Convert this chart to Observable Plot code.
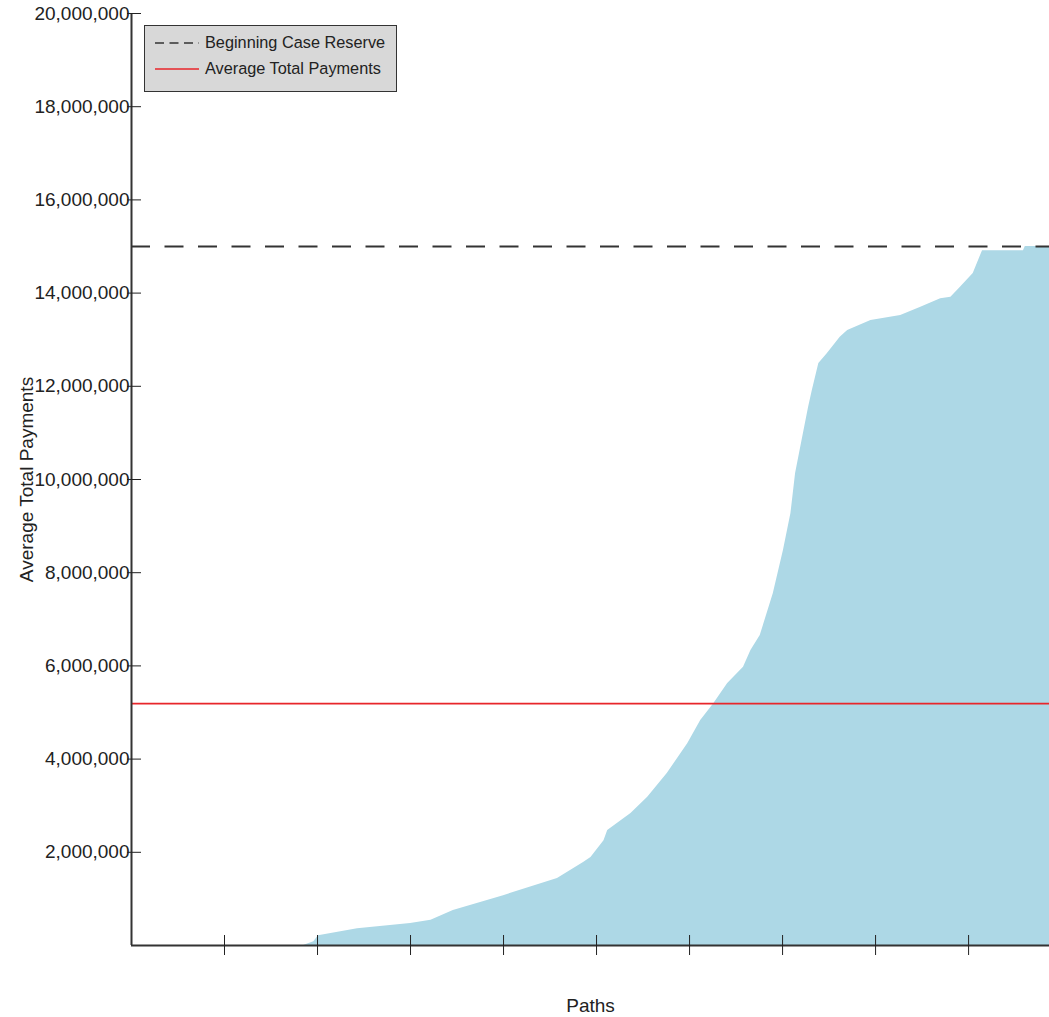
<!DOCTYPE html>
<html>
<head>
<meta charset="utf-8">
<script src="https://cdn.jsdelivr.net/npm/d3@7"></script>
<script src="https://cdn.jsdelivr.net/npm/@observablehq/plot@0.6"></script>
<style>
  body { margin: 0; background: #fff; font-family: "Liberation Sans", Arial, sans-serif; }
  #wrap { position: relative; width: 1049px; height: 1017px; overflow: hidden; }
  #legend {
    position: absolute; left: 144px; top: 25px; width: 253px; height: 67px;
    background: #d8d8d8; border: 1.5px solid #333; box-sizing: border-box;
    font-size: 16.3px; color: #222;
  }
  .row { position: absolute; left: 10px; display: flex; align-items: center; }
  .row svg { margin-right: 6px; }
</style>
</head>
<body>
<div id="wrap">
  <div id="chart"></div>
  <div id="legend">
    <div class="row" style="top:7px">
      <svg width="44" height="6"><line x1="0" y1="3" x2="44" y2="3" stroke="#333" stroke-width="1.6" stroke-dasharray="9,5.5"/></svg>
      <span>Beginning Case Reserve</span>
    </div>
    <div class="row" style="top:33px">
      <svg width="44" height="6"><line x1="0" y1="3" x2="44" y2="3" stroke="#e8262b" stroke-width="1.6"/></svg>
      <span>Average Total Payments</span>
    </div>
  </div>
</div>
<script>
// Data (paths sorted by total payments)
const paths = [0, 185, 196, 201, 243, 300, 322, 346, 400, 458, 486, 494, 508, 512, 537, 555, 576, 598, 612, 626, 641, 658, 666, 676, 690, 701, 709, 714, 721, 728, 732, 739, 748, 762, 770, 795, 827, 848, 870, 881, 891, 905, 915, 959, 961, 987];
const payments = [0, 0, 0.08, 0.21, 0.36, 0.47, 0.54, 0.75, 1.07, 1.44, 1.78, 1.89, 2.25, 2.47, 2.83, 3.18, 3.69, 4.33, 4.83, 5.19, 5.62, 5.97, 6.33, 6.65, 7.55, 8.48, 9.27, 10.13, 10.84, 11.55, 11.91, 12.49, 12.70, 13.05, 13.20, 13.41, 13.52, 13.69, 13.88, 13.91, 14.12, 14.42, 14.91, 14.91, 15.0, 15.0].map(v => v * 1e6);
const beginningCaseReserve = [15000000];
const averageTotalPayments = [5190000];
const xTicks = [100, 200, 300, 400, 500, 600, 700, 800, 900];
const yTicks = [2e6, 4e6, 6e6, 8e6, 10e6, 12e6, 14e6, 16e6, 18e6, 20e6];

const data = paths.map((p, i) => ({path: p, pay: payments[i]}));

const chart = Plot.plot({
  width: 1049,
  height: 1017,
  marginLeft: 131,
  marginRight: 0,
  marginTop: 13,
  marginBottom: 72,
  style: {fontFamily: "'Liberation Sans', Arial, sans-serif", fontSize: "19px", color: "#222", background: "#fff"},
  x: {domain: [0, 987]},
  y: {domain: [0, 20000000]},
  marks: [
    Plot.areaY(data, {x: "path", y: "pay", fill: "#add8e6"}),
    Plot.ruleY(averageTotalPayments, {stroke: "#e8262b", strokeWidth: 1.6}),
    Plot.ruleY(beginningCaseReserve, {stroke: "#333", strokeWidth: 2, strokeDasharray: "19,14.5"}),
    Plot.ruleX([0], {stroke: "#333", strokeWidth: 2}),
    Plot.ruleY([0], {stroke: "#333", strokeWidth: 2}),
    Plot.axisY({ticks: yTicks, tickSize: 14, dx: 10, tickPadding: -2, tickFormat: d3.format(","),
      stroke: "#222", fill: "#222", fontSize: 19, label: "Average Total Payments", labelAnchor: "center", labelOffset: 112, labelArrow: "none"}),
    Plot.axisX({ticks: xTicks, tickSize: 20, dy: -10, tickFormat: () => "", stroke: "#222",
      label: "Paths", labelAnchor: "center", labelOffset: 66, labelArrow: "none"})
  ]
});
document.getElementById("chart").appendChild(chart);
</script>
</body>
</html>
